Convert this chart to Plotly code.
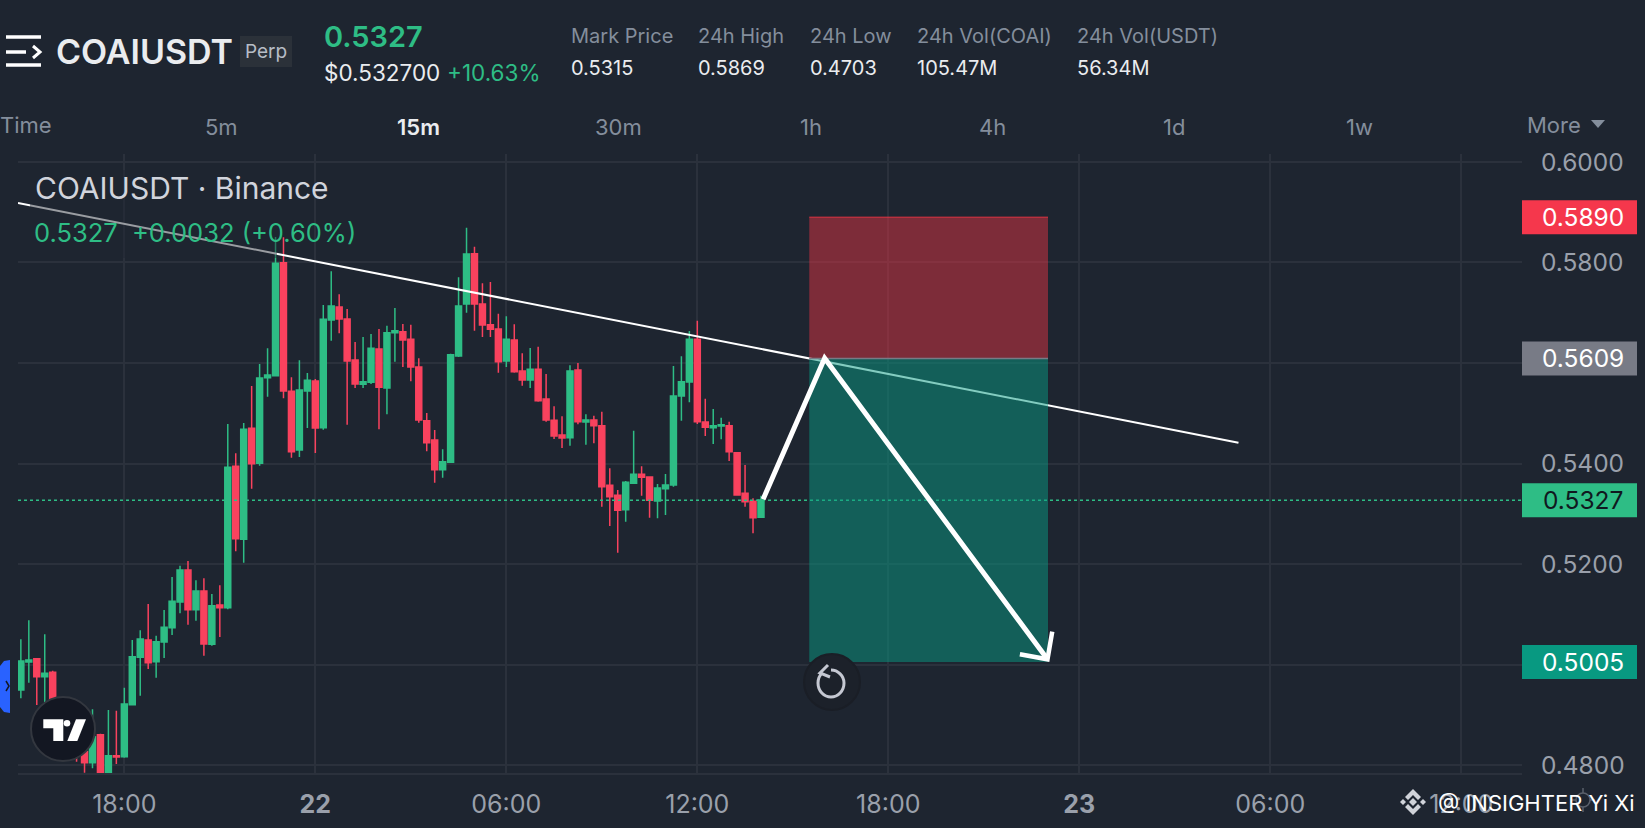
import pandas as pd
import plotly.graph_objs as go

# 15m candles, 21 Oct 14:45 -> 22 Oct 14:00
times = pd.date_range("2025-10-21 14:45", periods=94, freq="15min").strftime("%Y-%m-%d %H:%M").tolist()

opens = [.49493, .50050, .50117, .49758, .49845, .4925, .4895, .4860, .48266, .48047,
         .48604, .47848, .48186, .48166, .49201, .50143, .50488, .50057, .50448, .50733,
         .51244, .51881, .51092, .51463, .50402, .51185, .51131, .53944, .52491, .54700,
         .54004, .55708, .55748, .57997, .55436, .54269, .55443, .55642, .54713, .56856,
         .57115, .56876, .56060, .55576, .55616, .56279, .55503, .56604, .56624, .56471,
         .55921, .54853, .54468, .53877, .54023, .56140, .57174, .58176, .57174, .56763,
         .56677, .56040, .56458, .55841, .55662, .55874, .55284, .54859, .54567, .54514,
         .55861, .54826, .54866, .54753, .53566, .53367, .53081, .53606, .53785, .53732,
         .53254, .53499, .53572, .55344, .55622, .56471, .54826, .54713, .54747, .54753,
         .54216, .53407, .53247, .52929]
highs = [.50501, .50879, .50130, .50601, .49878, .4935, .4905, .4875, .4840, .49108,
         .4862, .49095, .49082, .49539, .50488, .50680, .51204, .50574, .51085, .51742,
         .51967, .52060, .51675, .51715, .51403, .51576, .54786, .54203, .54806, .55543,
         .55980, .56292, .58508, .58501, .55715, .56053, .55801, .55682, .57154, .57824,
         .57367, .57075, .56418, .56518, .56577, .56677, .56743, .57095, .56776, .56763,
         .56093, .55005, .54667, .54282, .56186, .57705, .58693, .58315, .57586, .57612,
         .56982, .56929, .56770, .56193, .56299, .56325, .55781, .55138, .54939, .55954,
         .56000, .54979, .54952, .55032, .53904, .53473, .53652, .54654, .53944, .53740,
         .53592, .53791, .55941, .56133, .56637, .56843, .55290, .55085, .54912, .54833,
         .54220, .53970, .53307, .53360]
lows = [.49327, .49639, .49195, .49195, .4895, .4870, .4845, .48067, .47848, .47934,
        .4760, .47834, .48020, .48146, .49195, .49380, .49911, .49738, .50130, .50587,
        .51019, .50793, .50873, .50176, .50375, .50548, .5110, .52252, .52027, .53500,
        .53957, .55330, .5573, .55297, .54116, .54130, .54707, .54209, .54674, .56445,
        .56591, .54773, .55503, .55503, .55582, .54680, .54979, .56027, .55921, .55635,
        .54813, .54242, .53619, .53718, .5402, .56120, .57002, .56644, .56518, .56518,
        .55808, .55921, .55808, .55549, .55503, .55231, .54833, .54488, .54309, .54355,
        .54780, .54375, .54402, .53141, .52756, .52226, .52843, .5360, .53360, .52922,
        .52909, .52975, .53539, .54853, .55218, .54786, .54547, .54388, .54481, .54050,
        .5337, .53141, .52611, .5292]
closes = [.50070, .50090, .49758, .49825, .4925, .4895, .4860, .4825, .48047, .48564,
          .4775, .48186, .48160, .49214, .50156, .50508, .50037, .50455, .50740, .51257,
          .51881, .51092, .51463, .50408, .51171, .51131, .53924, .52504, .54680, .53997,
          .55702, .55761, .57984, .55443, .54236, .55463, .55655, .54707, .56869, .57135,
          .56876, .56040, .55582, .55629, .56292, .55516, .56604, .56644, .56458, .55921,
          .54866, .54415, .53877, .54037, .56166, .57135, .58169, .57174, .56756, .56670,
          .56027, .56471, .55828, .55662, .55874, .55251, .54866, .54548, .54508, .55841,
          .54833, .54866, .54753, .53539, .53340, .53068, .53626, .53785, .53725, .53267,
          .53513, .53572, .55344, .55629, .56471, .54833, .54720, .54753, .54773, .54236,
          .53373, .53241, .52922, .53274]

# 0.50 and 0.56 sit under the price tags, so no text for them
price_ticks = [0.48, 0.50, 0.52, 0.54, 0.56, 0.58, 0.60]
price_text = ["0.4800", "", "0.5200", "0.5400", "", "0.5800", "0.6000"]
time_ticks = ["2025-10-21 18:00", "2025-10-22 00:00", "2025-10-22 06:00", "2025-10-22 12:00",
              "2025-10-22 18:00", "2025-10-23 00:00", "2025-10-23 06:00", "2025-10-23 12:00"]
time_text = ["18:00", "<b>22</b>", "06:00", "12:00", "18:00", "<b>23</b>", "06:00", "12:00"]

# drawings on the chart
trend_x = ["2025-10-21 14:39:36", "2025-10-23 05:00"]
trend_y = [0.59184, 0.54414]
box_x = ["2025-10-22 15:31", "2025-10-22 23:01"]
stop_price, entry_price, target_price, last_price = 0.5890, 0.5609, 0.5005, 0.5327
zig_x = ["2025-10-22 14:04", "2025-10-22 16:00", "2025-10-22 23:00"]
zig_y = [0.53288, 0.56093, 0.50103]
head_x = ["2025-10-22 22:08", "2025-10-22 23:00", "2025-10-22 23:09"]
head_y = [0.50203, 0.50103, 0.50653]

# header
stat_names = ["Mark Price", "24h High", "24h Low", "24h Vol(COAI)", "24h Vol(USDT)"]
stat_values = ["0.5315", "0.5869", "0.4703", "105.47M", "56.34M"]
stat_left = [570, 696.5, 808.5, 916, 1076]
frames = ["5m", "15m", "30m", "1h", "4h", "1d", "1w"]
frame_center = [222, 418, 618, 811, 992, 1174, 1359]

W, H = 1645, 828
L, R, T, B = 18, 1522, 154, 773
BG = "#1e2530"
GRID = "#2b313c"
GREEN = "#2ebd85"
RED = "#f9425e"
FONT = "Inter"


def fx(px):
    return (px - L) / (R - L)


def fy(py):
    return (B - py) / (B - T)


def txt(text, px, py, size, color, anchor="left", weight=400, family=FONT, yref="paper"):
    return dict(text=text, x=fx(px), y=fy(py) if yref == "paper" else py, xref="paper", yref=yref,
                xanchor=anchor, yanchor="middle", showarrow=False, borderpad=0,
                font=dict(size=size, color=color, family=family, weight=weight))


def paper_path(points, close=False):
    path = "M " + " L ".join(f"{fx(a)},{fy(b)}" for a, b in points)
    return path + (" Z" if close else "")


def data_path(xs, ys):
    return "M " + " L ".join(f"{a.replace(' ', '_')},{b}" for a, b in zip(xs, ys))


def p_shape(path, fill=None, color=None, width=0):
    return dict(type="path", xref="paper", yref="paper", path=path, fillcolor=fill or "rgba(0,0,0,0)",
                line=dict(color=color or "rgba(0,0,0,0)", width=width), layer="above")


def p_circle(cx, cy, r, fill, color=None, width=0):
    return dict(type="circle", xref="paper", yref="paper", x0=fx(cx - r), x1=fx(cx + r), y0=fy(cy + r), y1=fy(cy - r),
                fillcolor=fill, line=dict(color=color or "rgba(0,0,0,0)", width=width), layer="above")


def price_tag(price, color):
    return dict(type="rect", xref="paper", yref="y", x0=1, x1=fx(1637), yanchor=price, ysizemode="pixel",
                y0=-17, y1=17, fillcolor=color, line=dict(width=0), layer="above")


shapes = [
    # last price
    dict(type="line", xref="paper", yref="y", x0=0, x1=1, y0=last_price, y1=last_price,
         line=dict(color=GREEN, width=1.5, dash="dot"), layer="above"),
    # trend line goes under the position box
    dict(type="line", x0=trend_x[0], x1=trend_x[1], y0=trend_y[0], y1=trend_y[1],
         line=dict(color="white", width=2), layer="above"),
    # short position box
    dict(type="rect", x0=box_x[0], x1=box_x[1], y0=entry_price, y1=stop_price,
         fillcolor="rgba(242,54,69,0.45)", line=dict(width=0), layer="above"),
    dict(type="rect", x0=box_x[0], x1=box_x[1], y0=target_price, y1=entry_price,
         fillcolor="rgba(8,153,129,0.5)", line=dict(width=0), layer="above"),
    dict(type="line", x0=box_x[0], x1=box_x[1], y0=entry_price, y1=entry_price,
         line=dict(color="#787b86", width=1.5), layer="above"),
    dict(type="line", x0=box_x[0], x1=box_x[1], y0=stop_price, y1=stop_price,
         line=dict(color="rgba(242,54,69,0.6)", width=1.5), layer="above"),
    # legend backdrop dims whatever is under it
    dict(type="rect", xref="paper", yref="paper", x0=fx(30), x1=fx(277), y0=fy(258), y1=fy(170),
         fillcolor="rgba(30,37,48,0.45)", line=dict(width=0), layer="above"),
    # hand drawn arrow
    dict(type="path", path=data_path(zig_x, zig_y), line=dict(color="white", width=5), layer="above"),
    dict(type="path", path=data_path(head_x, head_y), line=dict(color="white", width=4.5), layer="above"),
    price_tag(stop_price, "#f5374c"),
    price_tag(entry_price, "#787b86"),
    price_tag(last_price, GREEN),
    price_tag(target_price, "#089981"),
    # menu icon
    p_shape(paper_path([(6, 37), (41, 37)]), color="white", width=3.5),
    p_shape(paper_path([(6, 52), (26, 52)]), color="white", width=3.5),
    p_shape(paper_path([(6, 65), (41, 65)]), color="white", width=3.5),
    p_shape(paper_path([(33, 46), (40, 52), (33, 58)]), color="white", width=3),
    # perp badge
    dict(type="rect", xref="paper", yref="paper", x0=fx(240), x1=fx(292), y0=fy(67), y1=fy(36),
         fillcolor="#2b3139", line=dict(width=0), layer="above"),
    # more triangle
    p_shape(paper_path([(1591, 120), (1605, 120), (1598, 128)], True), fill="#848e9c"),
    # blue side tab
    p_shape(paper_path([(10, 660), (4, 661), (0, 666), (0, 707), (4, 712), (10, 713)], True), fill="#2962ff"),
    p_shape(paper_path([(6, 681), (9, 686), (6, 691)]), color="#131722", width=1.5),
    # tradingview badge
    p_circle(63, 729, 32, "#131722", "#33373f", 2),
    p_shape(paper_path([(43.3, 719.3), (63.3, 719.3), (63.3, 741), (53.3, 741), (53.3, 728.3), (43.3, 728.3)], True), fill="white"),
    p_circle(67, 723.3, 3.3, "white"),
    p_shape(paper_path([(76, 719.3), (86, 719.3), (77.3, 741), (67.3, 741)], True), fill="white"),
    # reset button
    p_circle(832, 682, 28, "#1c212a", "#1a1e26", 2),
    p_shape(f"M {fx(831)},{fy(670)} C {fx(838)},{fy(670)} {fx(844)},{fy(676)} {fx(844)},{fy(683)} "
            f"C {fx(844)},{fy(691)} {fx(838)},{fy(697)} {fx(831)},{fy(697)} "
            f"C {fx(824)},{fy(697)} {fx(818)},{fy(691)} {fx(818)},{fy(683)} "
            f"C {fx(818)},{fy(679)} {fx(820)},{fy(675)} {fx(822)},{fy(673)}", color="#c5c8d2", width=3),
    p_shape(paper_path([(828, 665), (820, 673), (830, 677)]), color="#c5c8d2", width=3),
    # binance mark
    p_shape(paper_path([(1413, 789), (1421, 797), (1418, 800), (1413, 795), (1408, 800), (1405, 797)], True), fill="#d0d3d9"),
    p_shape(paper_path([(1413, 815), (1421, 807), (1418, 804), (1413, 809), (1408, 804), (1405, 807)], True), fill="#d0d3d9"),
    p_shape(paper_path([(1403, 799), (1406, 802), (1403, 805), (1400, 802)], True), fill="#d0d3d9"),
    p_shape(paper_path([(1423, 799), (1426, 802), (1423, 805), (1420, 802)], True), fill="#d0d3d9"),
    p_shape(paper_path([(1413, 798), (1417, 802), (1413, 806), (1409, 802)], True), fill="#d0d3d9"),
    # gear behind the watermark
    p_circle(1583, 800, 7, "rgba(0,0,0,0)", "#5a606b", 1.5),
    p_shape(paper_path([(1583, 788), (1583, 793)]), color="#5a606b", width=1.5),
    p_shape(paper_path([(1583, 807), (1583, 812)]), color="#5a606b", width=1.5),
    p_shape(paper_path([(1571, 800), (1576, 800)]), color="#5a606b", width=1.5),
    p_shape(paper_path([(1590, 800), (1595, 800)]), color="#5a606b", width=1.5),
]

annotations = [
    txt("COAIUSDT", 54.5, 52, 34, "#eaecef", weight=600),
    txt("Perp", 266, 52, 19, "#b7bdc6", "center"),
    txt("0.5327", 323, 36, 29, GREEN, weight=600),
    txt("$0.532700", 323, 72, 22.5, "#eaecef"),
    txt("+10.63%", 446, 72, 22.5, GREEN),
    txt("Time", -1, 125, 22, "#848e9c"),
    txt("More", 1526, 125, 22, "#848e9c"),
    txt("COAIUSDT · Binance", 34, 188, 30, "#d1d4dc"),
    txt("0.5327  +0.0032 (+0.60%)", 33, 232, 25.5, GREEN),
    txt("0.5890", 1583, stop_price, 24.5, "white", "center", yref="y"),
    txt("0.5609", 1583, entry_price, 24.5, "white", "center", yref="y"),
    txt("0.5327", 1583, last_price, 24.5, "#10181f", "center", yref="y"),
    txt("0.5005", 1583, target_price, 24.5, "white", "center", yref="y"),
    txt("@ INSIGHTER Yi Xi", 1437, 803, 22, "white"),
]
for name, value, left in zip(stat_names, stat_values, stat_left):
    annotations.append(txt(name, left, 36, 20, "#848e9c"))
    annotations.append(txt(value, left, 68, 20, "#eaecef"))
for frame, center in zip(frames, frame_center):
    if frame == "15m":
        annotations.append(txt(frame, center, 127, 22, "#eaecef", "center", weight=600))
    else:
        annotations.append(txt(frame, center, 127, 22, "#848e9c", "center"))

candles = go.Candlestick(
    x=times, open=opens, high=highs, low=lows, close=closes,
    increasing=dict(line=dict(color=GREEN, width=1.5), fillcolor=GREEN),
    decreasing=dict(line=dict(color=RED, width=1.5), fillcolor=RED),
    showlegend=False,
)

layout = go.Layout(
    width=W, height=H, autosize=False,
    margin=dict(l=L, r=W - R, t=T, b=H - B, pad=0, autoexpand=False),
    paper_bgcolor=BG, plot_bgcolor=BG,
    font=dict(family=FONT, color="#9aa0ab", size=24),
    boxgap=0.25, boxgroupgap=0,
    xaxis=dict(type="date", range=["2025-10-21 14:39:36", "2025-10-23 13:54:24"], rangeslider=dict(visible=False),
               tickmode="array", tickvals=time_ticks, ticktext=time_text, tickangle=0,
               tickfont=dict(size=25),
               ticks="outside", ticklen=8, tickcolor=BG,
               showgrid=True, gridcolor=GRID, gridwidth=1.5, zeroline=False,
               showline=True, linecolor=GRID, linewidth=1.5),
    yaxis=dict(side="right", range=[0.47841, 0.60159], tickmode="array", tickvals=price_ticks, ticktext=price_text,
               tickfont=dict(size=24.5),
               ticks="outside", ticklen=13, tickcolor=BG,
               showgrid=True, gridcolor=GRID, gridwidth=1.5, zeroline=False, showline=False),
    shapes=shapes,
    annotations=annotations,
)

fig = go.Figure(data=[candles], layout=layout)
fig.write_html("out.html", config=dict(displayModeBar=False),
               post_script=f"document.body.style.margin='0';document.body.style.background='{BG}';document.body.style.overflow='hidden';")
